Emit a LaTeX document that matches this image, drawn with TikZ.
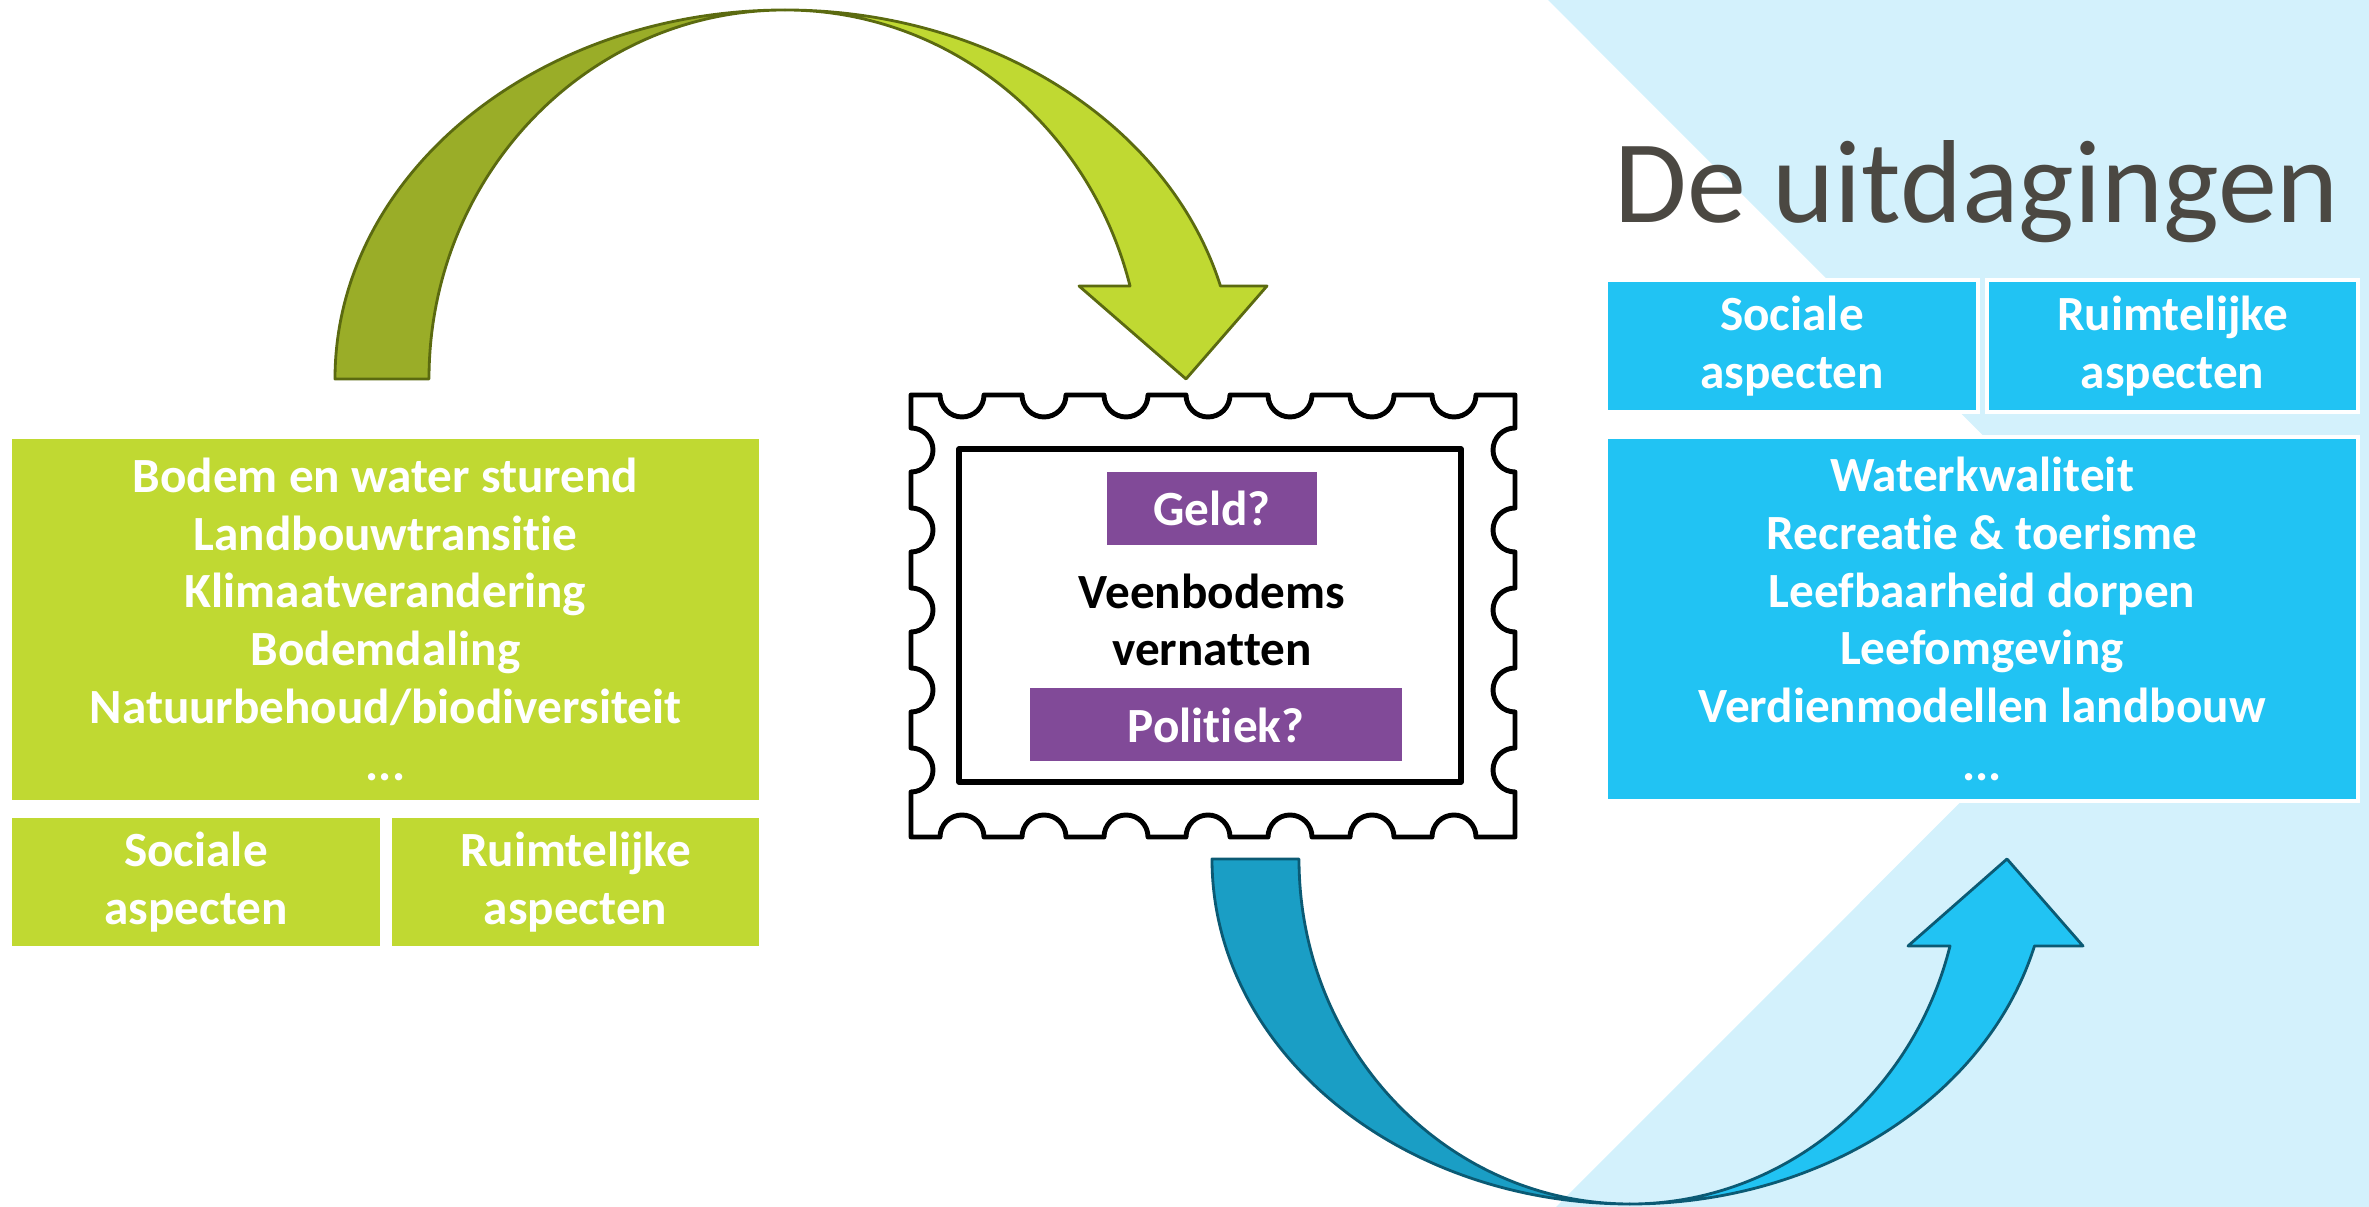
\documentclass[tikz,border=0pt]{standalone}
\usepackage{fontspec}
\setmainfont{Carlito}[Ligatures=NoCommon]
\usepackage{tikz}

\definecolor{LeafGreen}{HTML}{C0D932}
\definecolor{LeafDark}{HTML}{9AAD28}
\definecolor{LeafLine}{HTML}{5B6A10}
\definecolor{SkyBlue}{HTML}{21C3F3}
\definecolor{SkyDark}{HTML}{1A9EC5}
\definecolor{SkyLine}{HTML}{0B5A74}
\definecolor{SkyPale}{HTML}{D3F1FC}
\definecolor{StampPurple}{HTML}{814A98}
\definecolor{TitleGrey}{HTML}{4B4842}

\newcommand{\BoxFont}{\fontsize{14}{16.4}\selectfont\bfseries}

\begin{document}
\begin{tikzpicture}[
    greenbox/.style={fill=LeafGreen, draw=white, line width=1pt, text=white, font=\BoxFont, align=center, inner sep=0pt},
    bluebox/.style={fill=SkyBlue, draw=white, line width=1pt, text=white, font=\BoxFont, align=center, inner sep=0pt},
    purplebox/.style={fill=StampPurple, text=white, font=\BoxFont, inner sep=0pt, minimum height=0.73cm},
    ribbon/.style={line width=0.8pt, line join=round}
  ]
      \useasboundingbox (0,0) rectangle (23.69,12.07);

      % Define the radii of the curved arrows
      \def\GreenOuter{4.50}
      \def\GreenInner{3.56}
      \def\GreenHeight{3.69}
      \def\BlueOuter{4.18}
      \def\BlueInner{3.31}
      \def\BlueHeight{3.45}
      \def\HeadAngle{14.6}

      % Draw the pale background
      \fill[SkyPale] (15.48,12.07) -- (23.69,12.07) -- (23.69,0) -- (15.56,0) -- (21.55,5.995) -- cycle;

      % Draw the green arrow
      \filldraw[ribbon, fill=LeafDark, draw=LeafLine] (3.35,8.28)
        arc[start angle=180,end angle=90,x radius=\GreenOuter,y radius=\GreenHeight]
        arc[start angle=90,end angle=180,x radius=\GreenInner,y radius=\GreenHeight] -- cycle;
      \filldraw[ribbon, fill=LeafGreen, draw=LeafLine] (7.85,11.97)
        arc[start angle=90,end angle=\HeadAngle,x radius=\GreenOuter,y radius=\GreenHeight]
        -- (12.67,9.21) -- (11.86,8.28) -- (10.79,9.21) -- (11.30,9.21)
        arc[start angle=\HeadAngle,end angle=90,x radius=\GreenInner,y radius=\GreenHeight] -- cycle;

      % Draw the blue arrow
      \filldraw[ribbon, fill=SkyDark, draw=SkyLine] (12.12,3.48)
        arc[start angle=180,end angle=270,x radius=\BlueOuter,y radius=\BlueHeight]
        arc[start angle=270,end angle=180,x radius=\BlueInner,y radius=\BlueHeight] -- cycle;
      \filldraw[ribbon, fill=SkyBlue, draw=SkyLine] (16.30,0.03)
        arc[start angle=270,end angle=360-\HeadAngle,x radius=\BlueOuter,y radius=\BlueHeight]
        -- (20.83,2.61) -- (20.07,3.48) -- (19.08,2.61) -- (19.50,2.61)
        arc[start angle=360-\HeadAngle,end angle=270,x radius=\BlueInner,y radius=\BlueHeight] -- cycle;

      % Draw the stamp
      \draw[line width=1.4pt, line join=round] (9.11,8.12)
        \foreach \x in {9.62,10.44,11.26,12.08,12.90,13.72,14.54} {
          -- (\x-0.22,8.12) arc[start angle=180,end angle=360,radius=0.22] }
        -- (15.15,8.12)
        \foreach \y in {7.57,6.77,5.97,5.17,4.37} {
          -- (15.15,\y+0.22) arc[start angle=90,end angle=270,radius=0.22] }
        -- (15.15,3.70)
        \foreach \x in {14.54,13.72,12.90,12.08,11.26,10.44,9.62} {
          -- (\x+0.22,3.70) arc[start angle=0,end angle=180,radius=0.22] }
        -- (9.11,3.70)
        \foreach \y in {4.37,5.17,5.97,6.77,7.57} {
          -- (9.11,\y-0.22) arc[start angle=270,end angle=450,radius=0.22] }
        -- cycle;
      \draw[line width=1.6pt, line join=round] (9.59,7.58) rectangle (14.61,4.25);

      % Draw the stamp texts
      \node[purplebox, minimum width=2.10cm] (geld) at (12.12,6.985) {Geld?};
      \node[font=\BoxFont, align=center, inner sep=0pt] (veen) at (12.12,5.87) {Veenbodems\\vernatten};
      \node[purplebox, minimum width=3.72cm] (politiek) at (12.16,4.82) {Politiek?};

      % Draw the green boxes
      \node[greenbox, minimum width=7.51cm, minimum height=3.65cm] (drivers) at (3.855,5.875)
        {Bodem en water sturend\\Landbouwtransitie\\Klimaatverandering\\Bodemdaling\\Natuurbehoud/biodiversiteit\\...};
      \node[greenbox, minimum width=3.72cm, minimum height=1.32cm] (greensocial) at (1.96,3.25) {Sociale\\aspecten};
      \node[greenbox, minimum width=3.71cm, minimum height=1.32cm] (greenspatial) at (5.755,3.25) {Ruimtelijke\\aspecten};

      % Draw the title and the blue boxes
      \node[anchor=base west, inner sep=0pt, text=TitleGrey, font=\fontsize{33.6}{40}\selectfont] (title) at (16.14,9.84) {De uitdagingen};
      \node[bluebox, minimum width=3.72cm, minimum height=1.32cm] (bluesocial) at (17.92,8.61) {Sociale\\aspecten};
      \node[bluebox, minimum width=3.71cm, minimum height=1.32cm] (bluespatial) at (21.725,8.61) {Ruimtelijke\\aspecten};
      \node[bluebox, minimum width=7.52cm, minimum height=3.64cm] (challenges) at (19.82,5.88)
        {Waterkwaliteit\\Recreatie \& toerisme\\Leefbaarheid dorpen\\Leefomgeving\\Verdienmodellen landbouw\\...};
    \end{tikzpicture}
\end{document}
